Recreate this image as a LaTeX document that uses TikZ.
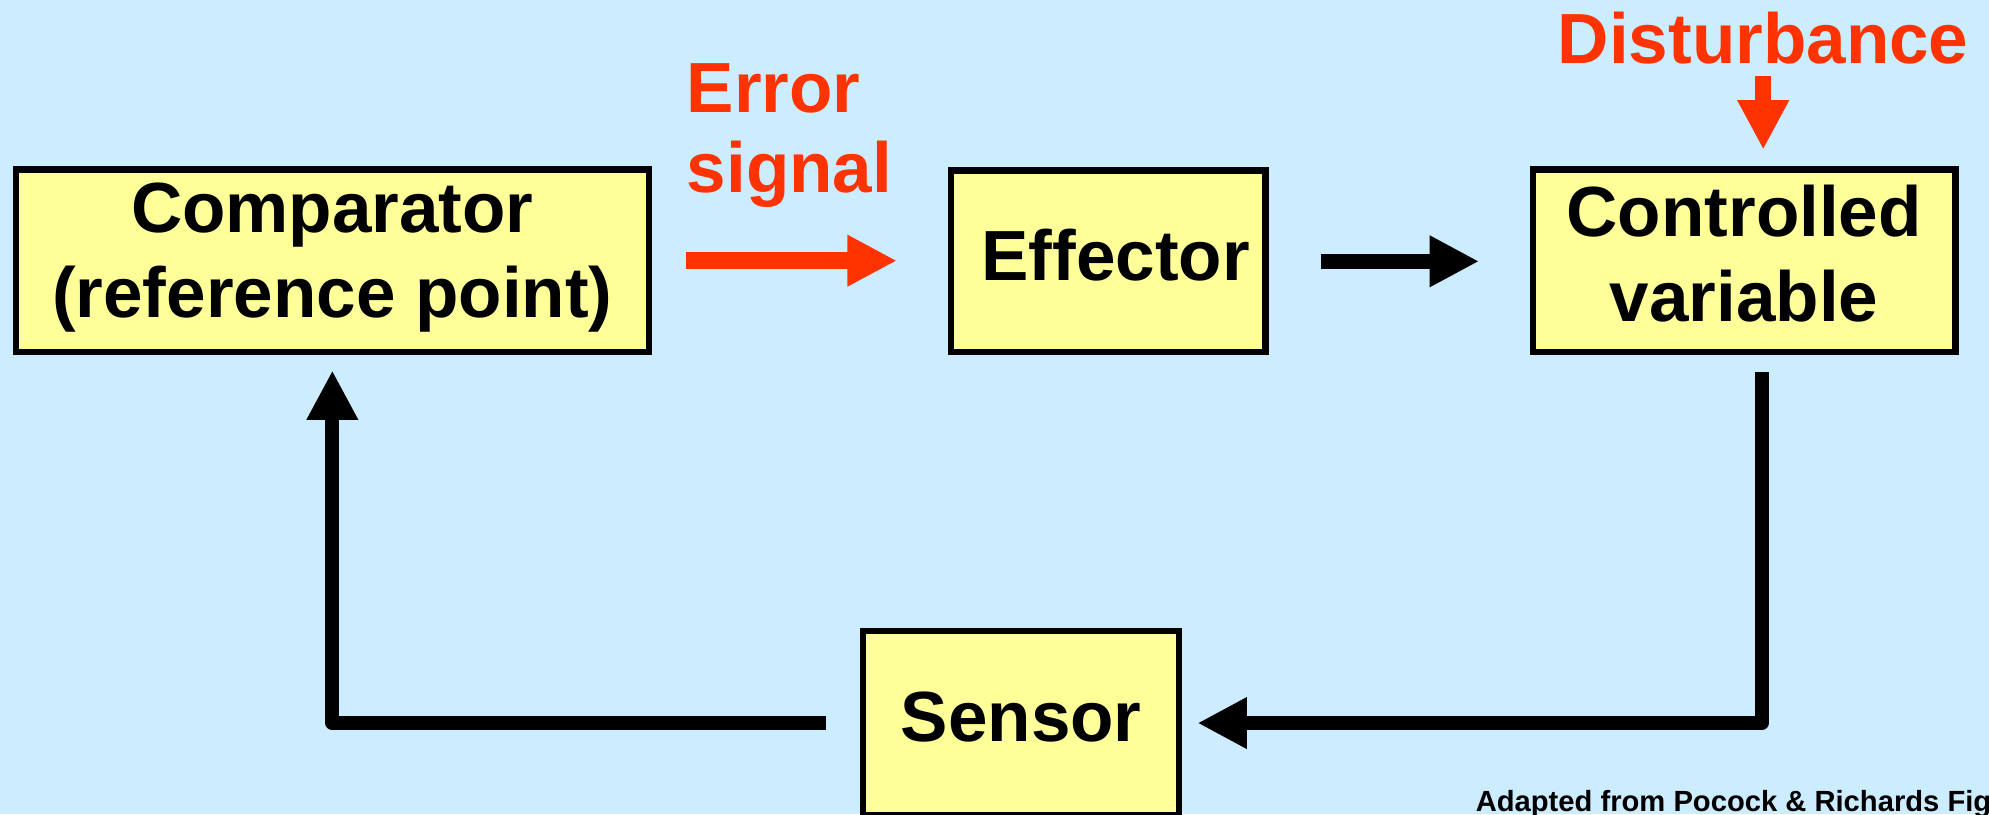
\documentclass[tikz,border=0pt]{standalone}
\usepackage{fontspec}
\setmainfont{Liberation Sans}
\usetikzlibrary{arrows.meta}
\definecolor{bg}{HTML}{CCECFF}
\definecolor{boxfill}{HTML}{FFFF99}
\definecolor{redc}{HTML}{FF3300}
\begin{document}
\begin{tikzpicture}[x=0.5pt,y=-0.5pt,
  block/.style={draw=black,fill=boxfill,line width=2.5pt,inner sep=0pt,align=center,
    font=\fontsize{28}{33.5}\selectfont\bfseries},
  big/.style={font=\fontsize{28}{33.5}\selectfont\bfseries,inner sep=0pt},
  tip/.style={-{Triangle[length=19.5pt,width=19pt]}},
  ]
\useasboundingbox (0,0) rectangle (1568,642);
\clip (0,0) rectangle (1568,642);
\fill[bg] (0,0) rectangle (1568,642);

\node[block,minimum width=249.5pt,minimum height=72pt,text depth=8pt] (comp) at (262,205.5) {Comparator\\(reference point)};
\node[block,minimum width=124pt,minimum height=71.5pt,text depth=5pt] (eff) at (873.5,206) {\hspace*{6pt}Effector};
\node[block,minimum width=166.5pt,minimum height=72pt,text depth=6pt] (ctrl) at (1375,205.5) {Controlled\\variable};
\node[block,minimum width=124.5pt,minimum height=72.5pt,text depth=5pt] (sens) at (805,570) {Sensor};

\node[big,text=redc,anchor=base] (dist) at (1390,50) {Disturbance};
\node[big,text=redc,anchor=base west] (err1) at (541,89) {Error};
\node[big,text=redc,anchor=base west] (err2) at (541,152) {signal};
\node[font=\fontsize{11.5}{14}\selectfont\bfseries,anchor=base west,inner sep=0pt] (src) at (1163,640) {Adapted from Pocock \& Richards Fig};

\draw[tip,redc,line width=6.5pt,shorten <=13.5pt,shorten >=20pt] (comp.east) -- (comp.east -| eff.west);
\draw[tip,black,line width=6pt,shorten <=20.5pt,shorten >=20pt] (eff.east) -- (eff.east -| ctrl.west);
\coordinate (dtop) at (1390,60);
\draw[tip,redc,line width=6.3pt,shorten >=6.5pt] (dtop) -- (dtop |- ctrl.north);
\coordinate (fb) at (1389,293);
\draw[tip,black,line width=5.5pt,line join=round,shorten >=6pt] (fb) |- (sens.east);
\draw[tip,black,line width=5.5pt,line join=round,shorten <=13.5pt,shorten >=6pt] (sens.west) -| (comp.south);
\end{tikzpicture}
\end{document}
